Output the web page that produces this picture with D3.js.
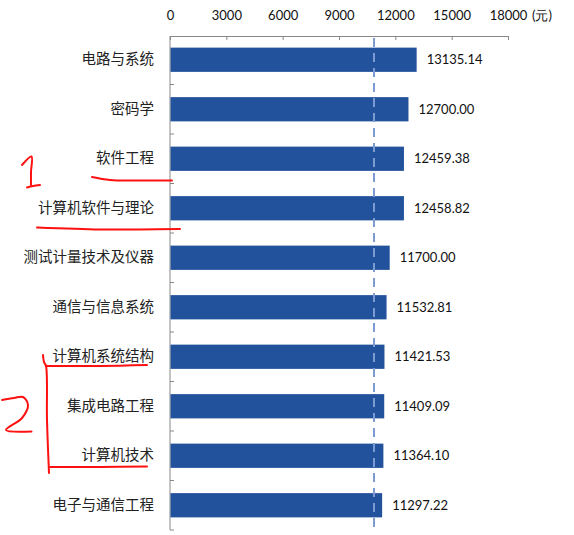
<!DOCTYPE html>
<html><head><meta charset="utf-8">
<script src="https://cdn.jsdelivr.net/npm/d3@7"></script>
<style>
html,body{margin:0;padding:0;background:#fff;}
svg{display:block;}
</style></head>
<body>
<svg id="chart" width="574" height="535"></svg>
<script>
const categories = ["电路与系统","密码学","软件工程","计算机软件与理论","测试计量技术及仪器","通信与信息系统","计算机系统结构","集成电路工程","计算机技术","电子与通信工程"];
const values = [13135.14,12700.00,12459.38,12458.82,11700.00,11532.81,11421.53,11409.09,11364.10,11297.22];
const xTicks = [0,3000,6000,9000,12000,15000,18000];
const refValue = [10864];
const unitLabel = "(元)";

const svg = d3.select("#chart");
const x = d3.scaleLinear().domain([0,18000]).range([170,508]);
const y = d3.scaleBand().domain(categories).range([35,530]).paddingInner(0.51).paddingOuter(0.255);

const latin = "Lato, 'Open Sans', sans-serif";
const cjk = "'Noto Sans CJK SC', sans-serif";

// x axis (top)
const xAxis = d3.axisTop(x).tickValues(xTicks).tickSize(-4).tickSizeOuter(0).tickPadding(16).tickFormat(d3.format("d"));
const gx = svg.append("g").attr("transform","translate(0,36)").call(xAxis);
gx.select(".domain").attr("stroke","#888").attr("stroke-width",1);
gx.selectAll(".tick line").attr("stroke","#888");
gx.selectAll(".tick text").attr("font-family",latin).attr("font-size",13).attr("fill","#111");
svg.append("text").attr("x",x(18000)+24).attr("y",20).attr("font-family",latin).attr("font-size",13).attr("fill","#111").text(unitLabel);

// y axis
const yAxis = d3.axisLeft(y).tickSize(0).tickPadding(16);
const gy = svg.append("g").attr("transform","translate(170,0)").call(yAxis);
gy.select(".domain").attr("stroke","#888").attr("d","M0,36V530");
gy.selectAll(".tick text").attr("font-family",cjk).attr("font-size",14.5).attr("fill","#222");
// category boundary ticks (pointing inward)
const bounds = categories.slice(1).map(c => y(c) - y.step()*y.paddingInner()/2).concat([y(categories[categories.length-1]) + y.bandwidth() + y.step()*y.paddingInner()/2]);
svg.append("g").selectAll("line").data(bounds).join("line")
  .attr("x1",170).attr("x2",174).attr("y1",d=>d).attr("y2",d=>d).attr("stroke","#888");

// bars
svg.append("g").selectAll("rect").data(values).join("rect")
  .attr("x",x(0)+0.5).attr("y",(d,i)=>y(categories[i]))
  .attr("width",d=>x(d)-x(0)-0.5).attr("height",y.bandwidth())
  .attr("fill","#23529c");

// reference dashed line
svg.append("g").selectAll("line").data(refValue).join("line")
  .attr("x1",d=>x(d)).attr("x2",d=>x(d)).attr("y1",38).attr("y2",530)
  .attr("stroke","#7b9bd1").attr("stroke-width",2).attr("stroke-dasharray","9,6");

// value labels
svg.append("g").selectAll("text").data(values).join("text")
  .attr("x",d=>x(d)+10).attr("y",(d,i)=>y(categories[i])+y.bandwidth()/2)
  .attr("dy","0.35em").attr("font-family",latin).attr("font-size",13).attr("fill","#111")
  .text(d=>d3.format(".2f")(d));

// red hand-drawn annotations
const red = svg.append("g").attr("fill","none").attr("stroke","#ff1010").attr("stroke-width",2).attr("stroke-linecap","round").attr("stroke-linejoin","round");
const line = d3.line().curve(d3.curveCatmullRom);
const marks = [
  [[22,165],[31.5,156.5],[31,172],[31,185]],
  [[27,187.5],[33,186],[40,185]],
  [[92,177],[110,180],[140,180.5],[172,180.5]],
  [[37,227.5],[100,229.5],[140,229.5],[180,229]],
  [[2,400],[14,398],[23,397],[28,405],[22,418],[6,430],[31.5,431.5]],
  [[43,355],[44,362],[46,366],[47,420],[49,473]],
  [[46,366],[100,366],[147,365]],
  [[50,467],[100,467],[147,466.5]]
];
red.selectAll("path").data(marks).join("path").attr("d",d=>line(d));
</script>
</body></html>
